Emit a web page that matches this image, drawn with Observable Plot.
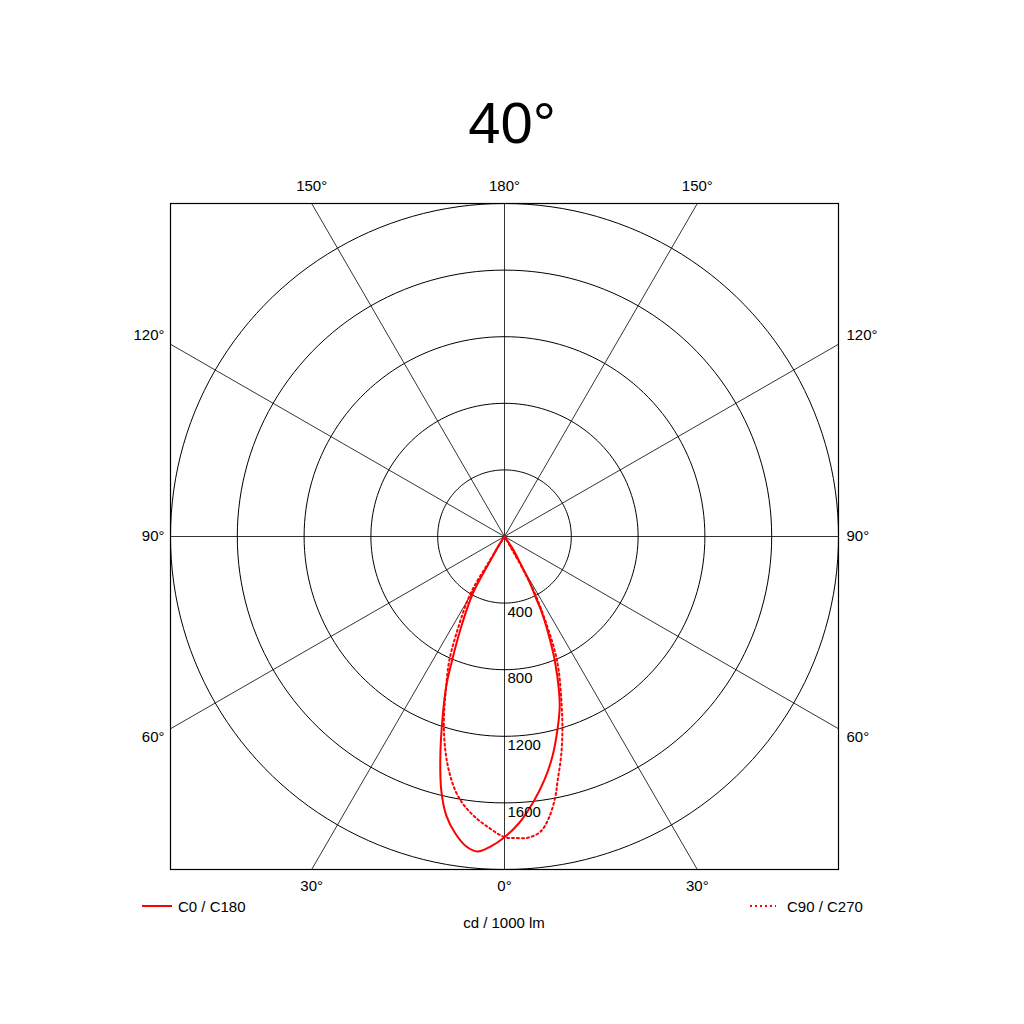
<!DOCTYPE html>
<html>
<head>
<meta charset="utf-8">
<script src="https://cdn.jsdelivr.net/npm/d3@7"></script>
<script src="https://cdn.jsdelivr.net/npm/@observablehq/plot@0.6"></script>
<style>
  body { margin: 0; background: #fff; font-family: "Liberation Sans", Arial, sans-serif; }
  #wrap { position: relative; width: 1024px; height: 1024px; overflow: hidden; }
  #title { position: absolute; left: 0; top: 94px; width: 1024px; text-align: center; font-size: 58px; line-height: 58px; color: #000; }
  #chart { position: absolute; left: 0; top: 160px; }
  .leg { position: absolute; font-size: 15px; line-height: 15px; color: #000; white-space: nowrap; }
  #unit { position: absolute; left: 0; width: 1008px; top: 915px; text-align: center; font-size: 15px; line-height: 15px; }
</style>
</head>
<body>
<div id="wrap">
  <div id="title">40°</div>
  <div id="chart"></div>
  <svg class="leg" style="left:140px; top:900px;" width="36" height="12"><line x1="2" x2="32" y1="6" y2="6" stroke="red" stroke-width="2"/></svg>
  <div class="leg" id="leg1" style="left:178px; top:899px;">C0 / C180</div>
  <svg class="leg" style="left:748px; top:900px;" width="32" height="12"><line x1="2" x2="28" y1="6" y2="6" stroke="red" stroke-width="2" stroke-dasharray="2,3"/></svg>
  <div class="leg" id="leg2" style="left:787px; top:899px;">C90 / C270</div>
  <div id="unit">cd / 1000 lm</div>
</div>
<script>
// ---- data ----
const ringValues = [400, 800, 1200, 1600, 2000];
const ringLabels = [400, 800, 1200, 1600];
const angleTicks = [0, 30, 60, 90, 120, 150, 180];
const maxValue = 2000;

// C0 / C180 (gamma in degrees, negative = left half; intensity cd/1000 lm)
const c0Gamma = [-36, -33, -30.3, -28.95, -25.5, -22.87, -21.27, -18.62, -16.15, -13.93, -11.74, -9.37, -6.99, -4.9, -2.59, 0, 3.0, 6.25, 9.35, 12.36, 15.43, 17.83, 19.42, 21.84, 23.63, 26.0, 27.06, 28.9, 30.37, 33.6, 36];
const c0Value = [0, 60, 167, 393, 604, 808, 960, 1166, 1382, 1572, 1712, 1808, 1876, 1899, 1864, 1806, 1720, 1601, 1479, 1347, 1196, 1079, 981, 815, 682, 517, 409, 302, 190, 101, 0];

// C90 / C270
const c90Gamma = [-34, -31.43, -30.68, -26.89, -23.92, -20.8, -18.2, -15.41, -13.12, -10.92, -8.7, -6.12, -3.15, 0, 2.09, 4.56, 6.96, 8.87, 10.95, 12.25, 14.47, 16.56, 18.64, 21.95, 23.68, 25.08, 26.57, 28.24, 29.36, 29.74, 32];
const c90Value = [0, 190, 400, 611, 815, 989, 1163, 1333, 1455, 1554, 1628, 1691, 1750, 1805, 1812, 1814, 1785, 1714, 1597, 1500, 1358, 1216, 1071, 868, 748, 623, 497, 368, 220, 97, 0];

// ---- helpers ----
const rad = d => d * Math.PI / 180;
const px = (g, r) => r * Math.sin(rad(g));
const py = (g, r) => -r * Math.cos(rad(g));

const c0 = c0Gamma.map((g, i) => ({x: px(g, c0Value[i]), y: py(g, c0Value[i])}));
const c90 = c90Gamma.map((g, i) => ({x: px(g, c90Value[i]), y: py(g, c90Value[i])}));

const rings = [];
for (const r of ringValues) {
  for (let a = 0; a <= 360; a += 2) rings.push({ring: r, x: px(a, r), y: py(a, r)});
}

const spokes = [];
for (const a of angleTicks) {
  for (const s of (a === 0 || a === 180) ? [1] : [-1, 1]) {
    const g = s * a;
    const t = maxValue / Math.max(Math.abs(Math.sin(rad(g))), Math.abs(Math.cos(rad(g))));
    spokes.push({x2: px(g, t), y2: py(g, t)});
  }
}

const tickLabels = [];
for (const a of angleTicks) {
  for (const s of (a === 0 || a === 180) ? [1] : [-1, 1]) {
    const g = s * a;
    const sn = Math.sin(rad(g)), cs = Math.cos(rad(g));
    if (Math.abs(cs) > 0.5 + 1e-9) {
      const t = maxValue / Math.abs(cs);
      tickLabels.push({label: a + "°", x: px(g, t), y: py(g, t), kind: cs > 0 ? "bottom" : "top"});
    } else {
      const x = s * maxValue;
      const y = -(maxValue + 90) * cs / Math.abs(sn);
      tickLabels.push({label: a + "°", x, y, kind: s < 0 ? "left" : "right"});
    }
  }
}

const ringText = ringLabels.map(r => ({label: String(r), x: 0, y: -r}));

const chart = Plot.plot({
  width: 1024,
  height: 800,
  marginLeft: 170,
  marginRight: 186,
  marginTop: 43,
  marginBottom: 91,
  x: {domain: [-maxValue, maxValue], axis: null},
  y: {domain: [-maxValue, maxValue], axis: null},
  style: {fontFamily: "Liberation Sans, Arial, sans-serif", fontSize: "15px", background: "white", overflow: "visible"},
  marks: [
    Plot.line(rings, {x: "x", y: "y", z: "ring", stroke: "black", strokeWidth: 1}),
    Plot.link(spokes, {x1: () => 0, y1: () => 0, x2: "x2", y2: "y2", stroke: "black", strokeWidth: 0.8}),
    Plot.frame({stroke: "black", strokeWidth: 1.2}),
    Plot.line(c90, {x: "x", y: "y", stroke: "red", strokeWidth: 2, strokeDasharray: "2,3", curve: "catmull-rom"}),
    Plot.line(c0, {x: "x", y: "y", stroke: "red", strokeWidth: 2, curve: "catmull-rom"}),
    Plot.text(ringText, {x: "x", y: "y", text: "label", textAnchor: "start", lineAnchor: "top", dx: 3, dy: 3, fill: "black", fontSize: 15}),
    Plot.text(tickLabels.filter(d => d.kind === "bottom"), {x: "x", y: "y", text: "label", lineAnchor: "top", dy: 11, fill: "black", fontSize: 15}),
    Plot.text(tickLabels.filter(d => d.kind === "top"), {x: "x", y: "y", text: "label", lineAnchor: "bottom", dy: -13, fill: "black", fontSize: 15}),
    Plot.text(tickLabels.filter(d => d.kind === "left"), {x: "x", y: "y", text: "label", textAnchor: "end", dx: -6, fill: "black", fontSize: 15}),
    Plot.text(tickLabels.filter(d => d.kind === "right"), {x: "x", y: "y", text: "label", textAnchor: "start", dx: 8, fill: "black", fontSize: 15})
  ]
});
document.getElementById("chart").appendChild(chart);
</script>
</body>
</html>
